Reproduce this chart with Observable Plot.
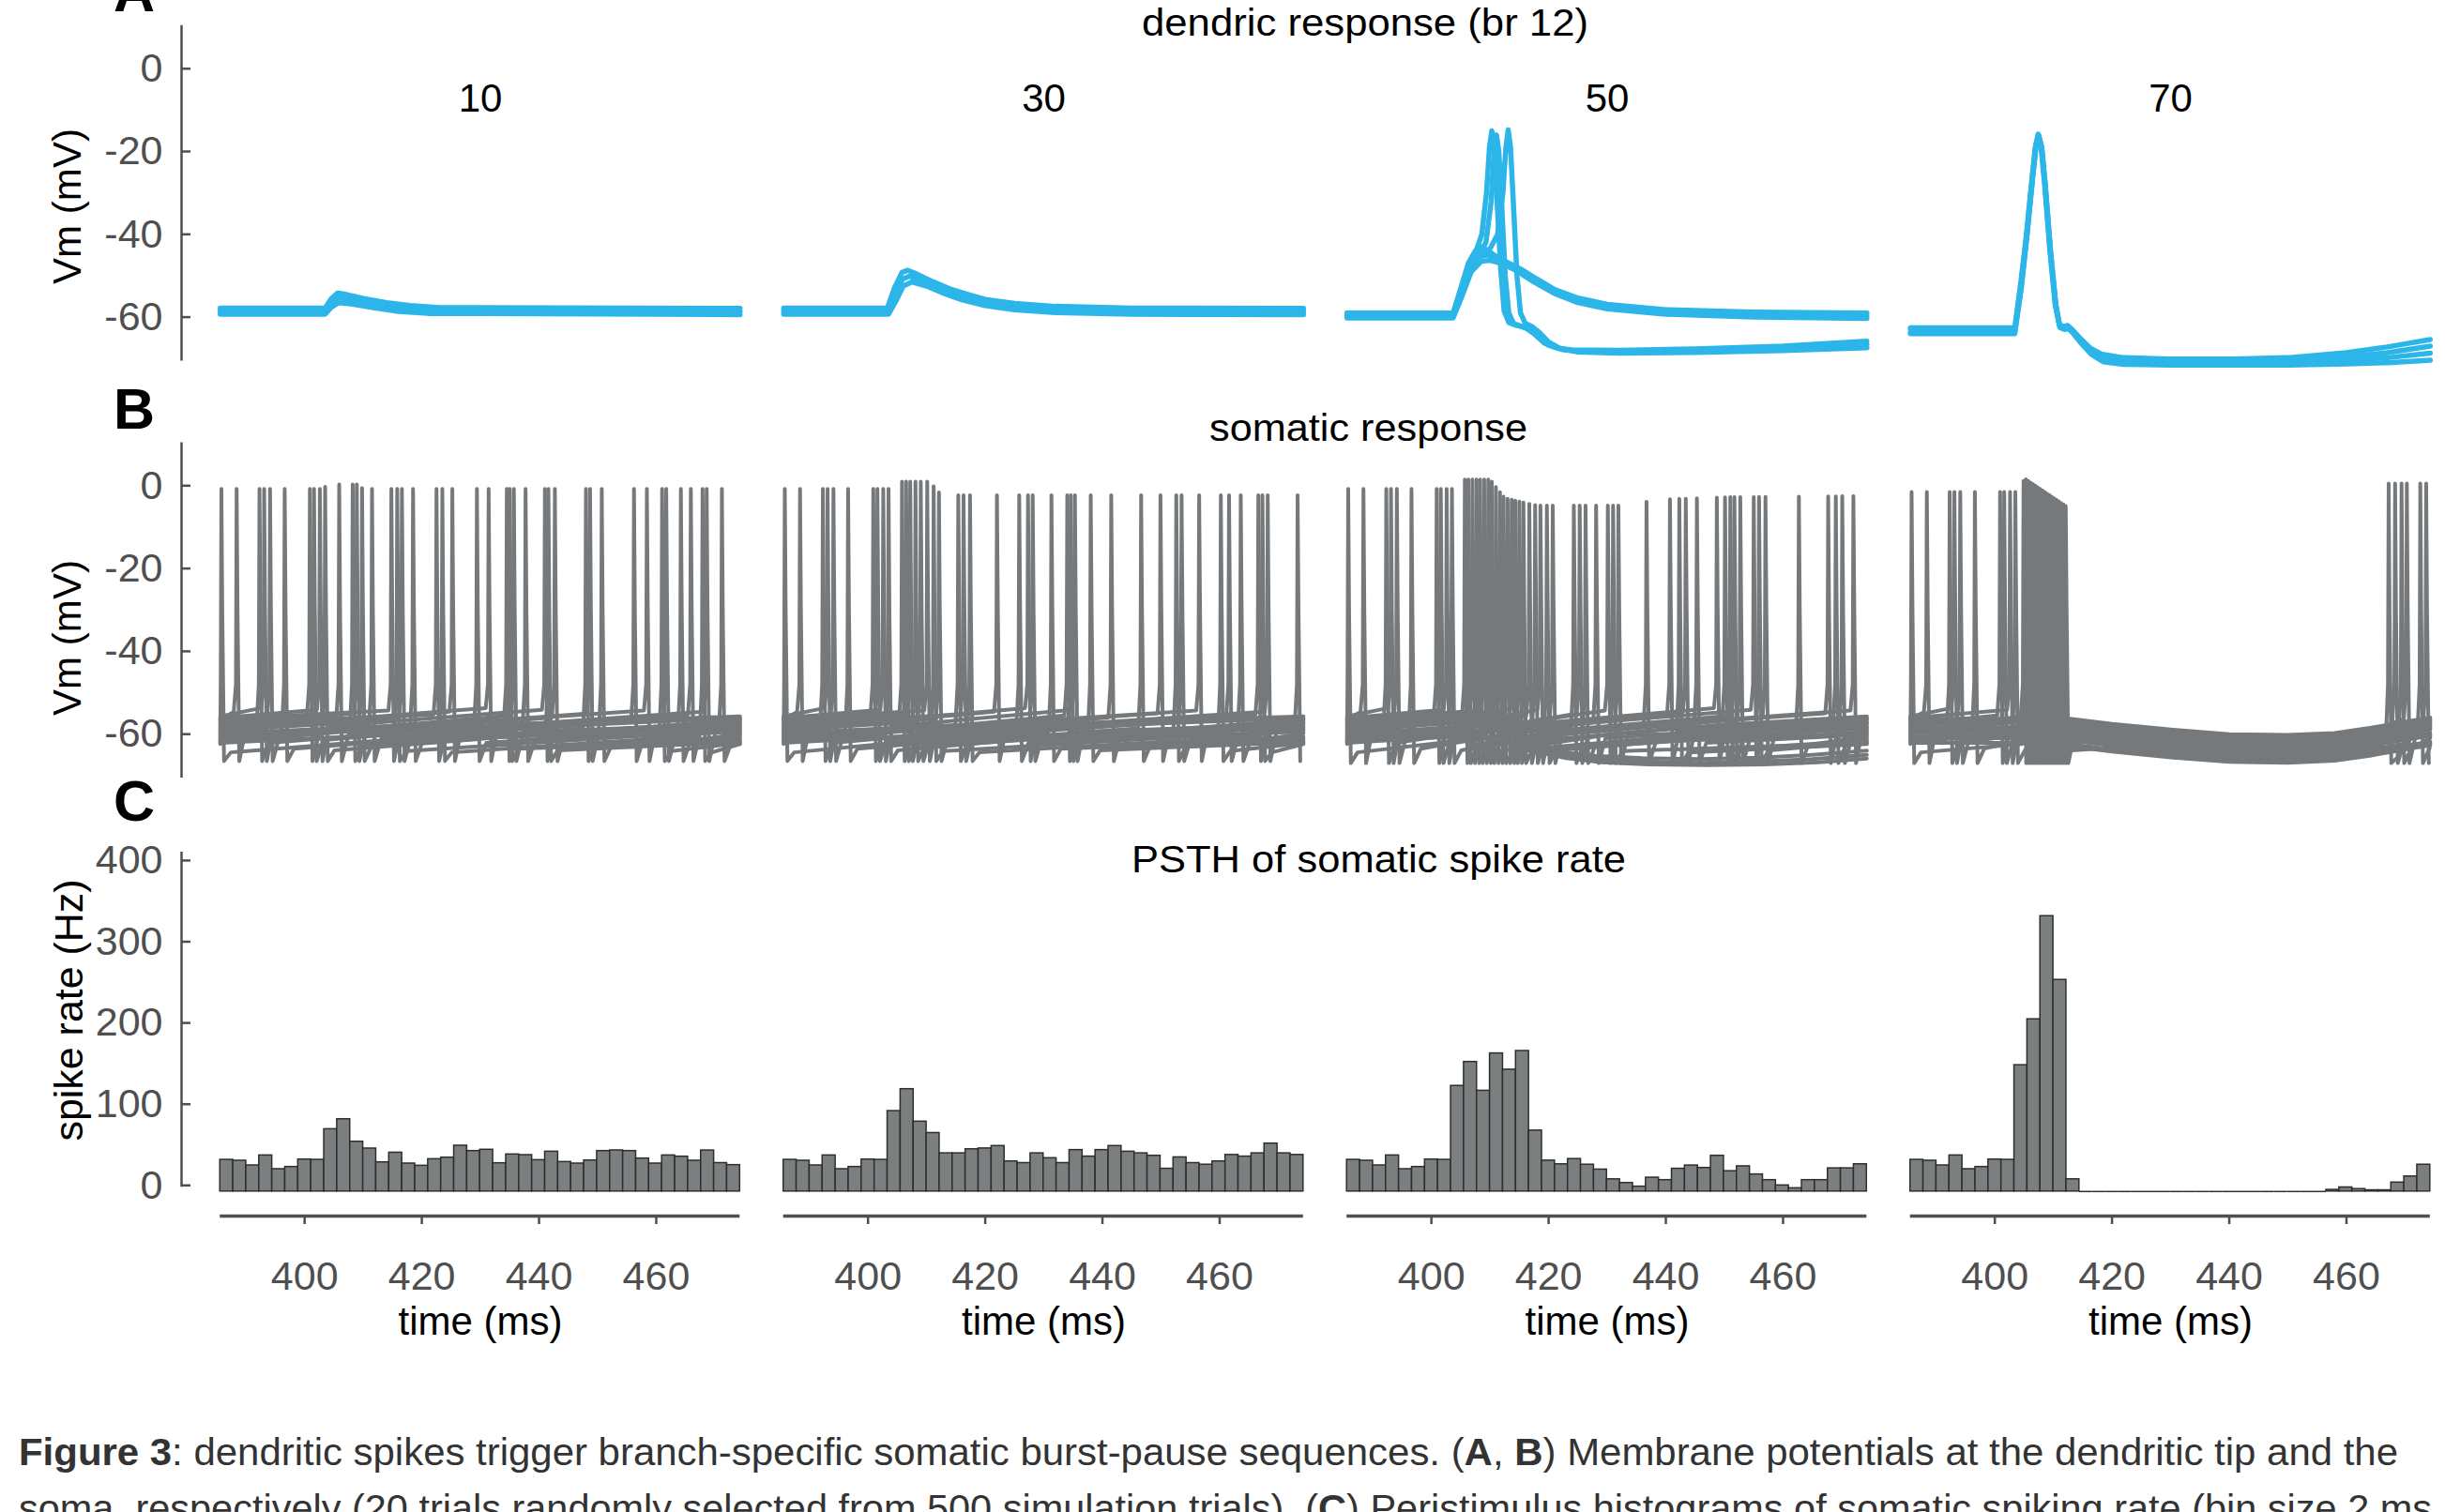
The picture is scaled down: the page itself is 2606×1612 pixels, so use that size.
<!DOCTYPE html>
<html><head><meta charset="utf-8">
<script src="https://cdn.jsdelivr.net/npm/d3@7"></script>
<script src="https://cdn.jsdelivr.net/npm/@observablehq/plot@0.6"></script>
<style>
html,body{margin:0;padding:0;background:#fff;overflow:hidden;}
#fig{position:relative;width:2606px;height:1612px;overflow:hidden;background:#fff;}
</style></head>
<body><div id="fig"></div>
<script>
// ---------------- data ----------------
const conditions = [10, 30, 50, 70];
const timeTicks = [400, 420, 440, 460];
const vmTicks = [-60, -40, -20, 0];
const rateTicks = [0, 100, 200, 300, 400];
const rowTitles = ["dendric response (br 12)", "somatic response", "PSTH of somatic spike rate"];
const panelLetters = ["A", "B", "C"];
const tWindow = [385.6, 474.3];
const binCount = 40;
const captionLine1 = [["Figure 3", true], [": dendritic spikes trigger branch-specific somatic burst-pause sequences. (", false], ["A", true], [", ", false], ["B", true], [") Membrane potentials at the dendritic tip and the", false]];
const captionLine2 = [["soma, respectively (20 trials randomly selected from 500 simulation trials). (", false], ["C", true], [") Peristimulus histograms of somatic spiking rate (bin size 2 ms", false]];

// A: dendritic membrane potential traces [time ms, Vm mV]
const dend10 = [
  [[385.6,-57.8],[403.5,-57.8],[404.5,-55.6],[405.6,-54.2],[407,-54.5],[410,-55.5],[414,-56.5],[418,-57.2],[423,-57.7],[474.3,-57.9]],
  [[385.6,-58.5],[403.5,-58.5],[404.6,-56.6],[405.7,-55.3],[408,-55.8],[412,-56.8],[417,-57.8],[422,-58.3],[474.3,-58.6]],
  [[385.6,-59.3],[403.5,-59.3],[404.6,-57.6],[405.8,-56.5],[408,-56.8],[412,-57.8],[416,-58.6],[421,-59.1],[474.3,-59.4]]
];
const dend30 = [
  [[385.6,-57.8],[403.3,-57.8],[404.5,-53],[405.8,-49.2],[406.8,-48.7],[408.5,-49.7],[411,-51.4],[414,-53.2],[417,-54.5],[420,-55.7],[425,-56.7],[432,-57.4],[445,-57.8],[474.3,-57.9]],
  [[385.6,-58.5],[403.4,-58.5],[404.6,-54.5],[405.9,-50.8],[407.1,-50.1],[409,-51.1],[412,-52.9],[415,-54.6],[418,-55.9],[422,-57],[428,-57.8],[440,-58.4],[474.3,-58.6]],
  [[385.6,-59.3],[403.5,-59.3],[404.8,-56],[406,-52.5],[407.5,-51.5],[410,-52.5],[413,-54.3],[416,-55.8],[420,-57.2],[425,-58.2],[432,-58.9],[445,-59.3],[474.3,-59.4]]
];
const dend50 = [
  [[385.6,-59],[403.7,-59],[405,-53],[406.3,-47],[407.5,-44],[408.5,-43],[409.5,-43.8],[411,-45.3],[413,-46.8],[415.5,-48.6],[418,-50.8],[421,-53.3],[425,-55.4],[430,-56.9],[440,-58.2],[455,-58.8],[474.3,-59]],
  [[385.6,-59.6],[403.7,-59.6],[405.1,-54],[406.5,-48],[408,-45.5],[409.5,-45],[411.5,-46],[414,-47.8],[417,-50.3],[421,-53.8],[425,-56],[430,-57.5],[440,-58.8],[455,-59.5],[474.3,-59.7]],
  [[385.6,-60.2],[403.7,-60.2],[405.2,-55],[406.8,-49],[408.5,-46.5],[410,-46.3],[412,-47],[414.5,-48.8],[417.5,-51.5],[421,-54.3],[425,-56.5],[430,-58],[440,-59.3],[455,-60],[474.3,-60.3]],
  [[385.6,-59.3],[403.7,-59.3],[405,-54],[406.3,-48],[407.5,-44.5],[408.6,-40],[409.4,-30],[409.9,-19],[410.3,-15],[410.7,-19],[411.2,-32],[411.8,-48],[412.4,-58.5],[413.2,-61.3],[414.5,-62],[416,-62.5],[417.5,-64],[419.3,-66.3],[421.5,-67.5],[424,-67.9],[432,-68],[445,-67.7],[460,-67],[474.3,-65.8]],
  [[385.6,-60],[403.7,-60],[405.1,-55],[406.5,-49],[408,-45],[409.3,-42],[410.2,-32],[410.7,-20],[411.1,-16],[411.5,-20],[412,-33],[412.6,-50],[413.2,-59],[414,-61.5],[415.3,-62.2],[416.8,-63],[418.3,-64.8],[420,-66.8],[422.5,-67.9],[426,-68.3],[435,-68.4],[448,-68.1],[462,-67.5],[474.3,-66.6]],
  [[385.6,-59],[403.7,-59],[405.3,-53.5],[406.8,-47.5],[408.5,-44.5],[410,-43.5],[411.3,-40],[412.2,-30],[412.7,-19],[413.1,-14.8],[413.5,-19],[414,-33],[414.6,-50],[415.2,-59],[416,-61.5],[417.2,-62.3],[418.5,-63.8],[420,-66],[422,-67.6],[425,-68.4],[432,-68.7],[445,-68.5],[460,-68.1],[474.3,-67.4]]
];
const dend70 = [
  [[385.6,-62.6],[403.4,-62.6],[404.4,-52],[405.4,-40],[406.3,-27],[406.9,-19],[407.4,-15.8],[407.9,-19],[408.5,-28],[409.4,-44],[410.3,-57],[411,-61.8],[411.8,-62.3],[412.4,-62],[413.2,-63],[414.5,-65],[416.3,-67.5],[418.3,-69],[422,-69.8],[430,-70.1],[441,-70.1],[450,-69.8],[460,-68.6],[467,-67.2],[474.3,-65.4]],
  [[385.6,-64],[403.4,-64],[404.5,-53],[405.5,-40],[406.4,-27],[407,-19],[407.5,-16.2],[408,-19],[408.6,-28],[409.5,-44],[410.4,-57],[411.1,-62.3],[411.9,-62.8],[412.5,-62.5],[413.3,-63.5],[414.7,-65.7],[416.5,-68.2],[418.5,-69.7],[422,-70.4],[430,-70.6],[441,-70.6],[450,-70.4],[460,-69.6],[467,-68.6],[474.3,-67]],
  [[385.6,-62.9],[403.4,-62.9],[404.45,-52.5],[405.45,-40],[406.35,-27],[406.95,-19],[407.45,-16],[407.95,-19],[408.55,-28],[409.45,-44],[410.35,-57],[411.05,-62],[411.85,-62.5],[412.45,-62.2],[413.25,-63.3],[414.6,-65.8],[416.4,-68.5],[418.4,-70.2],[422,-70.9],[430,-71.1],[441,-71.1],[450,-71],[460,-70.5],[467,-69.8],[474.3,-68.7]],
  [[385.6,-63.7],[403.4,-63.7],[404.5,-53],[405.5,-40],[406.4,-27],[407,-19],[407.5,-16.4],[408,-19],[408.6,-28],[409.5,-44],[410.4,-57],[411.1,-62.5],[411.9,-63],[412.5,-62.7],[413.3,-63.8],[414.7,-66.3],[416.5,-69],[418.5,-70.8],[422,-71.4],[430,-71.6],[441,-71.6],[450,-71.6],[460,-71.3],[467,-71],[474.3,-70.4]]
];

// B: somatic spike times (ms)
const preSpikes = [385.8, 388.4, 392.3, 393.1, 394.1, 396.6, 400.9, 401.6, 402.6, 403.5];
const postSpikes10 = [405.9,408.2,408.9,409.8,411.5,414.8,415.8,416.6,418.5,422.5,423.5,425.2,429.4,431.4,434.5,435,435.7,437.7,441,441.6,442.7,448,448.7,450.7,456.2,458.4,461,461.7,464.2,465.9,467.9,468.6,471.2];
const postSpikes30 = [405.8,406.5,407.2,408.1,409,410.1,411.2,412.1,415.4,416.3,417.4,422,425.8,427.3,428.1,431.3,434,434.6,435.3,438,441.5,446.6,449.9,452.6,453.5,456.5,460.2,461.6,463.6,466.6,467.3,468.2,473.3];
const postSpikes50 = [405.7,406.3,407,407.7,408.3,409,409.7,410.3,411,411.7,412.3,413,413.7,414.3,415,415.7,416.7,417.7,418.6,419.7,420.7,424.3,425.3,426.3,428.1,430.1,431,431.9,436.7,440.7,442.3,443.4,445.3,448.7,450.1,451,451.7,452.7,455,455.9,457,462.7,467.7,469,470.1,472];
const postSpikes70 = [404.9,405.3,405.7,406.1,406.5,406.9,407.3,407.7,408.1,408.5,408.9,409.3,409.7,410.1,410.5,410.9,411.3,411.7,412.1,467.2,468.3,469.4,470.3,472.6,473.6];
// subthreshold level between spikes [time, Vm]
const floor10 = [[385.6,-59],[474.3,-59]];
const floor30 = [[385.6,-59],[474.3,-59]];
const floor50 = [[385.6,-59],[474.3,-59]];
const floor70 = [[385.6,-59],[404.5,-59],[412.5,-59.5],[420,-60.8],[430,-62.2],[440,-63.3],[450,-63.5],[458,-63],[464,-61.8],[470,-60.3],[474.3,-59.3]];
// spike peak level over time [time, Vm]
const peak10 = [[385,-0.8],[403,-0.8],[404,0.3],[409,0.3],[410,-0.8],[475,-0.8]];
const peak30 = [[385,-0.8],[404.5,-0.8],[405.5,1],[410.5,1],[412.5,-2.3],[475,-2.3]];
const peak50 = [[385,-0.8],[404.5,-0.8],[405.5,1.5],[410,1.5],[412.5,-3],[418,-4.8],[432,-4.8],[440,-3.3],[450,-2.8],[475,-2.5]];
const peak70 = [[385,-1.5],[404.5,-1.5],[405,1.8],[412.2,-5],[413,0.5],[475,0.5]];
const ahpLevel = [-66.5, -66.5, -67, -67];
// spread of the 20 trials around the subthreshold level (mV)
const trialOffsets = [-3.4, 2.4, -1.1, 3.3, 0.4, -2.5, 1.5, -0.4, 2.9, -2.9, 1, -1.6, 2, -2, 0, 2.7, -3.1, 0.7, -0.8, 1.7];
// trials silenced after the burst (condition 50)
const pause50 = [
  [[412.4,-61],[415,-62],[418,-63.2],[422,-64.3],[428,-65.2],[436,-65.8],[446,-66],[456,-65.7],[465,-65],[474.3,-64]],
  [[412.6,-61.5],[415.5,-62.6],[418.5,-63.9],[422.5,-65],[428,-66],[436,-66.6],[446,-66.9],[456,-66.6],[465,-66],[474.3,-65]],
  [[413,-62],[416,-63.2],[419,-64.6],[423,-65.8],[429,-66.8],[437,-67.3],[447,-67.5],[457,-67.3],[466,-66.8],[474.3,-65.9]]
];

// C: PSTH spike rate (Hz) per bin
const rate10 = [39,37.9,32.1,44.4,27.5,30.2,39.4,39,76.7,89,61.3,52.9,35.9,47.8,34.4,31.7,39.8,41.7,56.4,49.8,51.4,34.8,45.6,44.8,38.6,49,36.3,34.4,38.2,49.8,50.6,49.8,40.6,34.4,44.4,42.9,37.9,50.5,35,32.5];
const rate30 = [39,37.9,32.1,44.4,27.5,30.2,39.4,39,99,126,86,72,47,47,52,53,56,37,35,47,41,35,51,43,51,56,49,47,44,28,42,35,33,37,45,43,47,59,47,45];
const rate50 = [39,37.9,32.1,44.4,27.5,30.2,39.4,39,130,159.5,124,170,150,173,75,38,33.5,40,33,27,15,10.5,6,17,14,28,32,29,44,25,31,21,14,7.5,4,14,14,28.5,28.5,33.5];
const rate70 = [39,37.9,32.1,44.4,27.5,30.2,39.4,39,155.5,212,339,260.5,15,0,0,0,0,0,0,0,0,0,0,0,0,0,0,0,0,0,0,0,2,5,3,1.5,1.5,11,18.5,33];

// ---------------- styling & layout ----------------
const W = 2606, H = 1612;
const FONT = '"Liberation Sans", Arial, Helvetica, sans-serif';
const BLUE = "#2cb5e9", GRAY = "#76797b", BAR_FILL = "#7b7f80", BAR_STROKE = "#2e2e2e";
const AXIS = "#4f4f4f", TICK_TEXT = "#4f4f4f";
const ML = 193, MR = 16.2, PI = 0.00866;
const xDomain = [379, 474.3];
const vmDomain = [-70.6, 10.4];
const rateDomain = [-30.25, 417.8];

const fig = document.getElementById("fig");

// ---------------- derived rows ----------------
const dendTraces = {10: dend10, 30: dend30, 50: dend50, 70: dend70};
const aRows = conditions.flatMap(c => dendTraces[c].flatMap((tr, k) => tr.map(([t, v]) => ({col: c, id: c + "-" + k, t, v}))));

const postSpikes = {10: postSpikes10, 30: postSpikes30, 50: postSpikes50, 70: postSpikes70};
const floors = {10: floor10, 30: floor30, 50: floor50, 70: floor70};
const peaks = {10: peak10, 30: peak30, 50: peak50, 70: peak70};
const bRows = [];
conditions.forEach((c, ci) => {
  const spikes = [...preSpikes, ...postSpikes[c]].sort((a, b) => a - b);
  const fl = d3.scaleLinear().domain(floors[c].map(d => d[0])).range(floors[c].map(d => d[1])).clamp(true);
  const pk = d3.scaleLinear().domain(peaks[c].map(d => d[0])).range(peaks[c].map(d => d[1])).clamp(true);
  const ahp = ahpLevel[ci], ramp = 2;
  trialOffsets.forEach((off, k) => {
    const mine = spikes.filter((_, i) => i % trialOffsets.length === k);
    const pts = [[tWindow[0], fl(tWindow[0]) + off]];
    let cursor = tWindow[0];
    for (const ts of mine) {
      for (const [kt] of floors[c]) if (kt > cursor + 0.5 && kt < ts - 0.6) pts.push([kt, fl(kt) + off]);
      if (ts - 0.5 > cursor) pts.push([ts - 0.5, fl(ts) + off + ramp]);
      pts.push([ts - 0.12, -48], [ts, pk(ts)], [ts + 0.15, -30], [ts + 0.45, ahp], [ts + 1.6, fl(ts + 1.6) + off - ramp]);
      cursor = ts + 1.6;
    }
    for (const [kt] of floors[c]) if (kt > cursor + 0.5) pts.push([kt, fl(kt) + off]);
    pts.filter(p => p[0] <= tWindow[1] + 0.3).forEach(([t, v]) => bRows.push({col: c, id: c + "-" + k, t, v}));
  });
});
pause50.forEach((tr, k) => tr.forEach(([t, v]) => bRows.push({col: 50, id: "p" + k, t, v})));

const rates = {10: rate10, 30: rate30, 50: rate50, 70: rate70};
const binWidth = (tWindow[1] - tWindow[0]) / binCount;
const histRows = conditions.flatMap(c => rates[c].map((r, i) => ({col: c, x1: tWindow[0] + i * binWidth, x2: tWindow[0] + (i + 1) * binWidth, rate: r})));

// ---------------- plots ----------------
function common(h, mt, mb, yDomain) {
  return {
    width: W, height: h, marginLeft: ML, marginRight: MR, marginTop: mt, marginBottom: mb,
    facet: {marginTop: 0, marginRight: 0, marginBottom: 0, marginLeft: 0},
    fx: {domain: conditions, paddingInner: PI, paddingOuter: 0, round: false, axis: null},
    x: {domain: xDomain, axis: null},
    y: {domain: yDomain, axis: null},
    style: {background: "transparent", overflow: "visible", maxWidth: "none", fontFamily: FONT}
  };
}
function place(el, top) {
  el.style.position = "absolute"; el.style.left = "0px"; el.style.top = top + "px";
  fig.appendChild(el);
}
function yAxisMarks(ticks, extra = {}) {
  return [
    Plot.axisY(ticks, {tickSize: 0, tickPadding: 20, fontSize: 43, color: TICK_TEXT, label: null, tickFormat: d => String(d), ...extra}),
    Plot.axisY(ticks, {tickSize: -10, tickFormat: () => "", color: AXIS, strokeWidth: 2.5, label: null, ...extra})
  ];
}

const plotA = Plot.plot({
  ...common(420, 26.8, 35.6, vmDomain),
  marks: [
    Plot.ruleX([xDomain[0]], {fx: [conditions[0]], stroke: AXIS, strokeWidth: 2.5}),
    ...yAxisMarks(vmTicks),
    Plot.line(aRows, {x: "t", y: "v", z: "id", fx: "col", stroke: BLUE, strokeWidth: 5.5, strokeLinejoin: "round"}),
    Plot.text(conditions, {fx: d => d, x: () => 430, text: d => String(d), frameAnchor: "top", dy: 61.5, fontSize: 42, fill: "black"})
  ]
});
place(plotA, 0);

const plotB = Plot.plot({
  ...common(440, 41.4, 41, vmDomain),
  marks: [
    Plot.ruleX([xDomain[0]], {fx: [conditions[0]], stroke: AXIS, strokeWidth: 2.5}),
    ...yAxisMarks(vmTicks),
    Plot.line(bRows, {x: "t", y: "v", z: "id", fx: "col", stroke: GRAY, strokeWidth: 4, strokeLinejoin: "round"})
  ]
});
place(plotB, 430);

const plotC = Plot.plot({
  ...common(580, 28, 164, rateDomain),
  marks: [
    Plot.ruleX([xDomain[0]], {fx: [conditions[0]], y1: 5.3, y2: rateDomain[1], stroke: AXIS, strokeWidth: 2.5}),
    ...yAxisMarks(rateTicks, {dy: -6.5}),
    Plot.rectY(histRows, {x1: "x1", x2: "x2", y: "rate", fx: "col", fill: BAR_FILL, stroke: BAR_STROKE, strokeWidth: 1.5}),
    Plot.ruleY(histRows, {filter: d => d.rate === 0, y: 0, x1: "x1", x2: "x2", fx: "col", stroke: BAR_STROKE, strokeWidth: 1.5}),
    Plot.ruleY([rateDomain[0]], {x1: tWindow[0], x2: tWindow[1], stroke: AXIS, strokeWidth: 3.5}),
    Plot.axisX(timeTicks, {anchor: "bottom", tickSize: 0, tickPadding: 48, fontSize: 43, color: TICK_TEXT, label: null}),
    Plot.axisX(timeTicks, {anchor: "bottom", tickSize: 9, tickFormat: () => "", color: AXIS, strokeWidth: 2.5, label: null}),
    Plot.text(conditions, {fx: d => d, x: () => 430, text: () => "time (ms)", frameAnchor: "bottom", lineAnchor: "top", dy: 97, fontSize: 42, fill: "black"})
  ]
});
place(plotC, 880);

// ---------------- overlay text: letters, titles, axis labels, caption ----------------
const ov = d3.create("svg").attr("width", W).attr("height", H)
  .style("position", "absolute").style("left", "0px").style("top", "0px")
  .style("font-family", FONT).style("white-space", "pre");
const letterPos = [[121, 12], [121, 457], [121, 875]];
panelLetters.forEach((L, i) => ov.append("text").attr("x", letterPos[i][0]).attr("y", letterPos[i][1])
  .attr("font-size", 61).attr("font-weight", "bold").attr("fill", "#000").text(L));
const titlePos = [[1455, 38, 476], [1458.5, 469.7, 339], [1469.5, 930, 527]];
rowTitles.forEach((T, i) => ov.append("text").attr("x", titlePos[i][0]).attr("y", titlePos[i][1])
  .attr("text-anchor", "middle").attr("font-size", 41).attr("fill", "#000")
  .attr("textLength", titlePos[i][2]).attr("lengthAdjust", "spacingAndGlyphs").text(T));
const yLabels = [["Vm (mV)", 86, 220, 166], ["Vm (mV)", 86, 680, 166], ["spike rate (Hz)", 87.7, 1077, 279]];
yLabels.forEach(([T, x, y, len]) => ov.append("text").attr("transform", `translate(${x},${y}) rotate(-90)`)
  .attr("text-anchor", "middle").attr("font-size", 43).attr("fill", "#000")
  .attr("textLength", len).attr("lengthAdjust", "spacingAndGlyphs").text(T));
[[captionLine1, 1562, 2536], [captionLine2, 1622, 2572]].forEach(([segs, y, len]) => {
  const t = ov.append("text").attr("x", 20).attr("y", y).attr("font-size", 40).attr("fill", "#333")
    .attr("textLength", len).attr("lengthAdjust", "spacingAndGlyphs");
  segs.forEach(([s, b]) => t.append("tspan").attr("font-weight", b ? "bold" : null).text(s));
});
fig.appendChild(ov.node());
</script>
</body></html>
